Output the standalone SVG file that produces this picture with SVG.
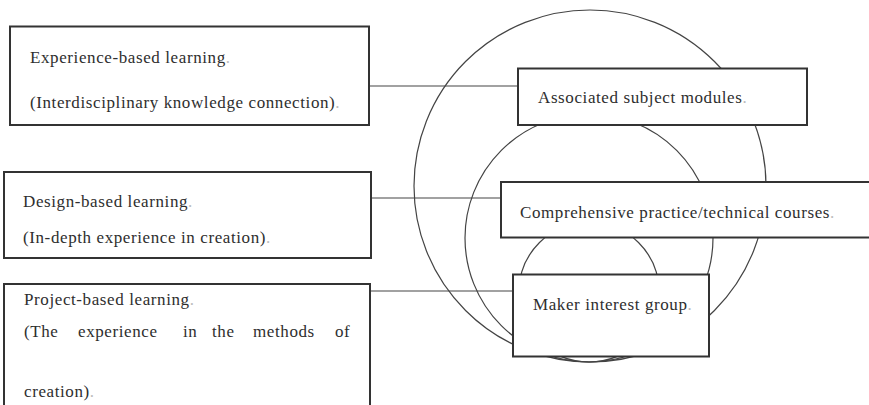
<svg xmlns="http://www.w3.org/2000/svg" width="869" height="405" viewBox="0 0 869 405">
  <style>
    .box { fill: #ffffff; stroke: #333333; stroke-width: 2; }
    .ring { fill: none; stroke: #444444; stroke-width: 1.2; }
    .link { fill: none; stroke: #444444; stroke-width: 1.2; }
    .label { font-family: "Liberation Serif", "Times New Roman", serif; font-size: 17px; letter-spacing: 0.6px; fill: #2e2e2e; }
    .dot { fill: #bbbbbb; }
  </style>
  <rect width="869" height="405" fill="#ffffff"/>

  <!-- nested circles -->
  <g id="rings">
    <circle class="ring" cx="590" cy="186" r="176"/>
    <circle class="ring" cx="589" cy="238" r="124"/>
    <circle class="ring" cx="589" cy="292" r="70"/>
  </g>

  <!-- connectors -->
  <g id="connectors">
    <line class="link" x1="370" y1="86" x2="518" y2="86"/>
    <line class="link" x1="371" y1="198" x2="501" y2="198"/>
    <line class="link" x1="370" y1="291" x2="513" y2="291"/>
  </g>

  <g id="experience-learning">
    <rect class="box" x="10" y="26.5" width="359" height="98.5"/>
    <text class="label" x="30" y="63">Experience-based learning<tspan class="dot">.</tspan></text>
    <text class="label" x="30" y="108">(Interdisciplinary knowledge connection)<tspan class="dot">.</tspan></text>
  </g>

  <g id="design-learning">
    <rect class="box" x="4" y="172" width="367" height="86"/>
    <text class="label" x="23" y="207">Design-based learning<tspan class="dot">.</tspan></text>
    <text class="label" x="23" y="243">(In-depth experience in creation)<tspan class="dot">.</tspan></text>
  </g>

  <g id="project-learning">
    <rect class="box" x="4" y="284" width="366" height="130"/>
    <text class="label" x="24" y="305">Project-based learning<tspan class="dot">.</tspan></text>
    <text class="label" y="337"><tspan x="24">(The</tspan><tspan x="78">experience</tspan><tspan x="183">in</tspan><tspan x="212">the</tspan><tspan x="253">methods</tspan><tspan x="335">of</tspan></text>
    <text class="label" x="24" y="397">creation)<tspan class="dot">.</tspan></text>
  </g>

  <g id="subject-modules">
    <rect class="box" x="518" y="68.5" width="289" height="56.5"/>
    <text class="label" x="538" y="103">Associated subject modules<tspan class="dot">.</tspan></text>
  </g>

  <g id="practice-courses">
    <rect class="box" x="501" y="182" width="380" height="55.5"/>
    <text class="label" x="520" y="218">Comprehensive practice/technical courses<tspan class="dot">.</tspan></text>
  </g>

  <g id="maker-group">
    <rect class="box" x="513" y="274.5" width="196" height="82"/>
    <text class="label" x="533" y="310">Maker interest group<tspan class="dot">.</tspan></text>
  </g>
</svg>
